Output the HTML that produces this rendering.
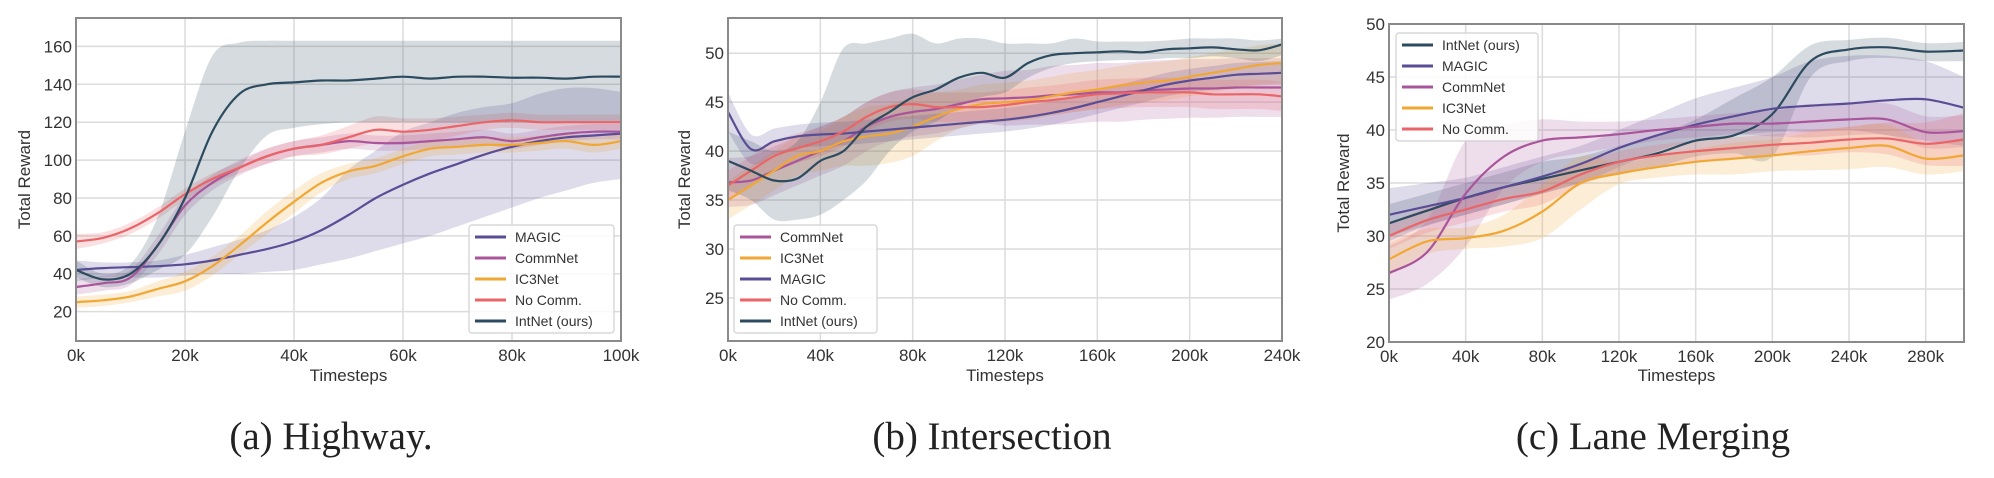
<!DOCTYPE html>
<html><head><meta charset="utf-8"><style>
body{margin:0;background:#fff;width:1994px;height:478px;overflow:hidden}
svg{display:block}
.tk{font:17px "Liberation Sans",sans-serif;fill:#333}
.lab{font:17px "Liberation Sans",sans-serif;fill:#333}
.lg{font:14px "Liberation Sans",sans-serif;fill:#333}
.cap{font:39px "Liberation Serif",serif;fill:#222}
</style></head><body>
<svg id="fig" width="1994" height="478"></svg>
<script>
// ---- Chart A: Highway ----
const xsA=[0,5,10,15,20,25,30,35,40,45,50,55,60,65,70,75,80,85,90,95,100];
const intA=[42,37,40,55,80,115,135,140,141,142,142,143,144,143,144,144,143.5,143.5,143,144,144];
const intAlo=[38,33,35,42,50,70,95,113,117,119,120,120,120,120,120,120,120,120,120,120,120];
const intAhi=[47,40,45,70,115,155,162,163,163,163,163,163,163,163,163,163,163,163,163,163,163];
const magA=[42,43,43.5,44,45,47,50,53,57,63,71,80,87,93,98,103,107,110,112,113,114];
const magAlo=[36,38,38,38,39,40,40,41,42,45,48,52,56,60,65,70,75,80,84,88,90];
const magAhi=[47,46,46,47,50,54,58,63,70,80,95,105,115,120,125,128,130,135,138,138,136];
const comA=[33,35,38,55,76,88,96,102,106,108,110,109,109,110,111,112,110,112,114,115,115];
const comAsp=[4,4,4,5,5,4,4,4,4,4,4,4,4,4,4,4,4,4,4,4,4];
const ic3A=[25,26,28,32,36,44,55,67,78,88,94,97,102,106,107,108,108,109,110,108,110];
const ic3Asp=[3,3,3,4,5,5,5,6,6,5,4,4,4,4,4,4,4,4,4,4,4];
const noA=[57,59,64,72,82,90,96,102,106,108,112,116,115,116,118,120,121,120,120,120,120];
const noAsp=[4,3,3,3,3,3,3,4,4,5,6,7,7,6,5,4,4,4,4,4,4];
const ticksYA=[20,40,60,80,100,120,140,160];
const ticksXA=[0,20,40,60,80,100];
// ---- Chart B: Intersection ----
const xsB=[0,10,20,30,40,50,60,70,80,90,100,110,120,130,140,150,160,170,180,190,200,210,220,230,240];
const intB=[39,38,37,37.2,39,40,42.5,44,45.5,46.3,47.5,48,47.5,49,49.8,50,50.1,50.2,50.1,50.4,50.5,50.6,50.4,50.3,50.9];
const intBlo=[36,35,33,33,33.5,35,37,40,42,43,44.5,45.5,46,47.5,48.5,49,49.2,49.3,49.3,49.5,49.5,49.7,49.5,49.2,49.8];
const intBhi=[42,41,40,41,45,50.5,51,51.5,52,51,51.5,51.5,51,51,51,51.5,51.2,51.2,51.2,51.3,51.5,51.5,51.5,51.3,51.5];
const magB=[44,40.2,41,41.5,41.7,41.8,42,42.2,42.4,42.6,42.8,43,43.2,43.5,43.9,44.4,45,45.6,46.2,46.8,47.2,47.5,47.8,47.9,48];
const magBsp=[2,1.5,1.3,1.2,1.2,1.2,1.2,1.2,1.2,1.2,1.2,1.2,1.2,1.2,1.2,1.2,1.2,1.2,1.2,1.2,1.2,1.2,1.2,1.2,1.2];
const comB=[36.8,37,38,39,40,41,42.5,43.5,44,44.3,44.8,45.3,45.4,45.5,45.7,45.8,46,46,46.2,46.3,46.4,46.4,46.5,46.5,46.5];
const comBsp=[2.5,2.5,2.5,2.5,2.5,2.5,2.5,2.5,2.5,2.5,2.5,2.5,2.8,2.8,3,3,3,3,3,3,3,3,3,3,3];
const ic3B=[35,36.5,38,39.5,40,41,41.5,41.8,42.5,43.5,44.3,44.8,45,45.2,45.6,46,46.3,46.7,47,47.2,47.6,48,48.4,48.8,49];
const ic3Bsp=[2,2,2,2,2,2.5,3,3,3,2.5,2,2,2,2,2,2,2,2,2,2,2,2,2,2,2];
const noB=[36.5,38,39.5,40.3,41,42,43.5,44.5,44.8,44.5,44.5,44.5,44.7,45,45.2,45.5,45.8,45.9,46,46,46,45.8,45.8,45.8,45.6];
const noBsp=[1.5,1.5,1.5,1.5,1.5,1.5,1.5,1.5,1.5,1.5,1.5,1.5,1.5,1.5,1.5,1.5,1.5,1.5,1.5,1.5,1.5,1.5,1.5,1.5,1.5];
const ticksYB=[25,30,35,40,45,50];
const ticksXB=[0,40,80,120,160,200,240];
// ---- Chart C: Lane Merging ----
const xsC=[0,20,40,60,80,100,120,140,160,180,200,220,240,260,280,300];
const intC=[31.2,32.4,33.6,34.6,35.4,36.2,37,37.8,39,39.5,41.5,46.5,47.6,47.8,47.4,47.5];
const intClo=[29.5,31,32,33,34,35,35.8,36.5,37.5,37.8,37.5,45,46.5,46.8,46.5,46.5];
const intChi=[33,34,35,36,37,37.5,38.5,39.5,41,43,45,48,48.5,48.7,48.2,48.3];
const magC=[32,32.8,33.6,34.6,35.6,36.8,38.3,39.5,40.5,41.3,42,42.3,42.5,42.8,42.9,42.1];
const magClo=[30,31,32,33,34,35,36.5,38,39,39.5,39.8,39.8,40,39.5,39,38.5];
const magChi=[34.5,35,35.5,36.5,37.5,38.5,40,41.5,43,44,45,46.5,47,47,46.5,45];
const comC=[26.5,28.5,34,37.5,39,39.3,39.6,40,40.3,40.6,40.6,40.8,41,41,39.8,39.9];
const comCsp=[2.5,3,5,3,2,1.5,1.2,1,1,1,1.2,1.5,1.5,1.5,1.5,1.5];
const ic3C=[27.8,29.5,29.8,30.5,32.3,35,35.9,36.5,37,37.3,37.6,38,38.3,38.5,37.3,37.6];
const ic3Csp=[1.5,1.2,1,1.5,2.5,2.5,1,1,1.2,1.5,1.5,1.8,2,2,1.5,1.5];
const noC=[30,31.5,32.5,33.5,34.2,35.8,37,37.6,38,38.3,38.6,38.8,39.1,39.2,38.7,39.1];
const noCsp=[1.2,1.2,1.2,1.2,1.2,1,1,1,1,1,1,1.2,1.2,1.5,2,2.5];
const ticksYC=[20,25,30,35,40,45,50];
const ticksXC=[0,40,80,120,160,200,240,280];

const COL={int:"#2c4b5f",mag:"#5a4d96",com:"#a9559b",ic3:"#f1a733",no:"#ea6468"};
const NS="http://www.w3.org/2000/svg";
const fig=document.getElementById('fig');
function mk(tag,attrs,parent){const e=document.createElementNS(NS,tag);for(const k in attrs)e.setAttribute(k,attrs[k]);(parent||fig).appendChild(e);return e;}
function smooth(pts,start){
  let d=(start?"M":"L")+pts[0][0].toFixed(1)+","+pts[0][1].toFixed(1);
  for(let i=0;i<pts.length-1;i++){
    const p0=pts[Math.max(0,i-1)],p1=pts[i],p2=pts[i+1],p3=pts[Math.min(pts.length-1,i+2)];
    const c1=[p1[0]+(p2[0]-p0[0])/6,p1[1]+(p2[1]-p0[1])/6];
    const c2=[p2[0]-(p3[0]-p1[0])/6,p2[1]-(p3[1]-p1[1])/6];
    d+="C"+c1[0].toFixed(1)+","+c1[1].toFixed(1)+" "+c2[0].toFixed(1)+","+c2[1].toFixed(1)+" "+p2[0].toFixed(1)+","+p2[1].toFixed(1);
  }
  return d;
}

function chart(cfg){
  const g=mk('g',{});
  
  
  const X=v=>cfg.L+(v-cfg.x0)/(cfg.x1-cfg.x0)*(cfg.R-cfg.L);
  const Y=v=>cfg.B-(v-cfg.y0)/(cfg.y1-cfg.y0)*(cfg.B-cfg.T);
  cfg.tx.forEach(t=>{
    const l=mk('line',{x1:X(t),x2:X(t),y1:cfg.T,y2:cfg.B,stroke:"#dcdcdc","stroke-width":1.5},g);
    
    
    const tt=mk('text',{x:X(t),y:cfg.B+20,"text-anchor":"middle",class:"tk"},g);
    tt.textContent=t+"k";
    
    
  });
  cfg.ty.forEach(t=>{
    const l=mk('line',{x1:cfg.L,x2:cfg.R,y1:Y(t),y2:Y(t),stroke:"#dcdcdc","stroke-width":1.5},g);
    
    
    const tt=mk('text',{x:cfg.L-4,y:Y(t)+6,"text-anchor":"end",class:"tk"},g);
    tt.textContent=t;
    
    
  });
  const xs=cfg.xs;
  cfg.series.forEach(s=>{
    const lo=s.lo||s.m.map((v,i)=>v-s.sp[i]);
    const hi=s.hi||s.m.map((v,i)=>v+s.sp[i]);
    const top=xs.map((x,i)=>[X(x),Y(hi[i])]);
    const bot=xs.map((x,i)=>[X(x),Y(lo[i])]).reverse();
    const d=smooth(top,true)+smooth(bot,false)+"Z";
    const b=mk('path',{d:d,fill:COL[s.k],"fill-opacity":0.2,stroke:"none"},g);
    
    
  });
  cfg.series.forEach(s=>{
    const d=smooth(xs.map((x,i)=>[X(x),Y(s.m[i])]),true);
    const p=mk('path',{d:d,fill:"none",stroke:COL[s.k],"stroke-width":2.2,"stroke-linejoin":"round"},g);
    
    
  });
  const fr=mk('rect',{x:cfg.L,y:cfg.T,width:cfg.R-cfg.L,height:cfg.B-cfg.T,fill:"none",stroke:"#8a8a8a","stroke-width":2},g);
  
  
  const xl=mk('text',{x:(cfg.L+cfg.R)/2,y:381,"text-anchor":"middle",class:"lab"},g);
  xl.textContent="Timesteps";
  
  
  const yl=mk('text',{x:0,y:0,"text-anchor":"middle",class:"lab",transform:`translate(${cfg.yl},${(cfg.T+cfg.B)/2}) rotate(-90)`},g);
  yl.textContent="Total Reward";
  
  
  const lg=cfg.lg;
  const lgb=mk('rect',{x:lg.x,y:lg.y,width:lg.w,height:108,fill:"#fff","fill-opacity":0.85,stroke:"#d0d0d0","stroke-width":1.2,rx:3},g);
  
  
  lg.items.forEach((it,i)=>{
    const yy=lg.y+12+i*21;
    const ln=mk('line',{x1:lg.x+6,x2:lg.x+37,y1:yy,y2:yy,stroke:COL[it[0]],"stroke-width":3},g);
    
    
    const t=mk('text',{x:lg.x+46,y:yy+5,class:"lg"},g);
    t.textContent=it[1];
    
    
  });
  const cp=mk('text',{x:cfg.cx,y:449,"text-anchor":"middle",class:"cap"},g);
  cp.textContent=cfg.cap;
  
  
}

chart({name:"highway-chart",L:76,R:621,T:18,B:341,x0:0,x1:100,y0:4.5,y1:175,xs:xsA,tx:ticksXA,ty:ticksYA,yl:30,cx:331,cap:"(a) Highway.",
 series:[{k:"mag",m:magA,lo:magAlo,hi:magAhi},{k:"com",m:comA,sp:comAsp},{k:"ic3",m:ic3A,sp:ic3Asp},{k:"no",m:noA,sp:noAsp},{k:"int",m:intA,lo:intAlo,hi:intAhi}],
 lg:{x:469,y:225,w:145,items:[["mag","MAGIC"],["com","CommNet"],["ic3","IC3Net"],["no","No Comm."],["int","IntNet (ours)"]]}});
chart({name:"intersection-chart",L:728,R:1282,T:18,B:341,x0:0,x1:240,y0:20.6,y1:53.6,xs:xsB,tx:ticksXB,ty:ticksYB,yl:690,cx:992,cap:"(b) Intersection",
 series:[{k:"com",m:comB,sp:comBsp},{k:"ic3",m:ic3B,sp:ic3Bsp},{k:"mag",m:magB,sp:magBsp},{k:"no",m:noB,sp:noBsp},{k:"int",m:intB,lo:intBlo,hi:intBhi}],
 lg:{x:734,y:225,w:143,items:[["com","CommNet"],["ic3","IC3Net"],["mag","MAGIC"],["no","No Comm."],["int","IntNet (ours)"]]}});
chart({name:"lane-merging-chart",L:1389,R:1964,T:24,B:342,x0:0,x1:300,y0:20,y1:50,xs:xsC,tx:ticksXC,ty:ticksYC,yl:1349,cx:1653,cap:"(c) Lane Merging",
 series:[{k:"int",m:intC,lo:intClo,hi:intChi},{k:"mag",m:magC,lo:magClo,hi:magChi},{k:"com",m:comC,sp:comCsp},{k:"ic3",m:ic3C,sp:ic3Csp},{k:"no",m:noC,sp:noCsp}],
 lg:{x:1396,y:33,w:142,items:[["int","IntNet (ours)"],["mag","MAGIC"],["com","CommNet"],["ic3","IC3Net"],["no","No Comm."]]}});
</script>
</body></html>
